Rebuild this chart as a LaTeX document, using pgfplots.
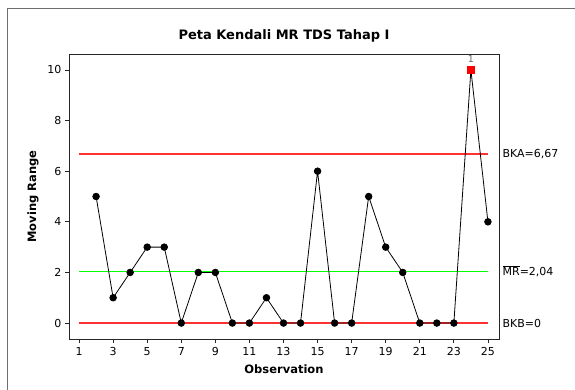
\documentclass[border=0pt]{standalone}
\usepackage{fontspec}
\setmainfont{DejaVu Sans}
\usepackage{pgfplots}
\pgfplotsset{compat=1.18}
\definecolor{limred}{RGB}{255,50,50}
\definecolor{framegray}{RGB}{110,110,110}
\begin{document}
\begin{tikzpicture}[x=1pt,y=1pt]
\useasboundingbox (0,0) rectangle (575,389);
\fill[white] (0,0) rectangle (575,389);
\draw[framegray, line width=1pt] (7,-10) -- (7,380) -- (590,380);
\begin{axis}[
  at={(69pt,50pt)}, anchor=south west,
  scale only axis, width=430pt, height=285pt,
  xmin=0.41, xmax=25.65, ymin=-0.63, ymax=10.63,
  xtick={1,3,...,25}, ytick={0,2,...,10},
  tick align=outside, tick pos=left,
  major tick length=4pt,
  axis line style={black!85, line width=0.9pt},
  every tick/.style={black!85, line width=0.8pt},
  /pgf/number format/assume math mode=true,
  ticklabel style={font=\fontsize{11}{13}\selectfont},
  xticklabel style={yshift=-1pt},
  xlabel={Observation}, ylabel={Moving Range},
  xlabel style={font=\bfseries\fontsize{11.5}{13}\selectfont, yshift=-2pt},
  ylabel style={font=\bfseries\fontsize{11.5}{13}\selectfont, yshift=2pt},
  title={Peta Kendali MR TDS Tahap I},
  title style={font=\bfseries\fontsize{13}{15}\selectfont, yshift=2pt},
  clip=false,
]
\addplot[color=limred, line width=1.5pt, mark=none] coordinates {(1,6.67) (25,6.67)};
\addplot[color=green, line width=1.6pt, mark=none] coordinates {(1,2.04) (25,2.04)};
\addplot[color=limred, line width=1.5pt, mark=none] coordinates {(1,0) (25,0)};
\addplot[black, line width=0.8pt, mark=*, mark size=3.3pt, mark options={fill=black}] coordinates {
(2,5) (3,1) (4,2) (5,3) (6,3) (7,0) (8,2) (9,2) (10,0) (11,0) (12,1) (13,0) (14,0)
(15,6) (16,0) (17,0) (18,5) (19,3) (20,2) (21,0) (22,0) (23,0) (24,10) (25,4)};
\addplot[only marks, mark=square*, mark size=3.7pt, color=red, mark options={fill=red, draw=red}] coordinates {(24,10)};
\node[font=\fontsize{9.5}{11}\selectfont, text=black!60, anchor=south, inner sep=0pt] at (axis cs:24,10.3) {1};
\node[font=\fontsize{11}{13}\selectfont, anchor=west, inner sep=0pt] at (axis cs:25.85,6.67) {BKA=6,67};
\node[font=\fontsize{11}{13}\selectfont, anchor=west, inner sep=0pt] at (axis cs:25.85,2.04) {$\overline{\mbox{MR}}$=2,04};
\node[font=\fontsize{11}{13}\selectfont, anchor=west, inner sep=0pt] at (axis cs:25.85,0) {BKB=0};
\end{axis}
\end{tikzpicture}
\end{document}
